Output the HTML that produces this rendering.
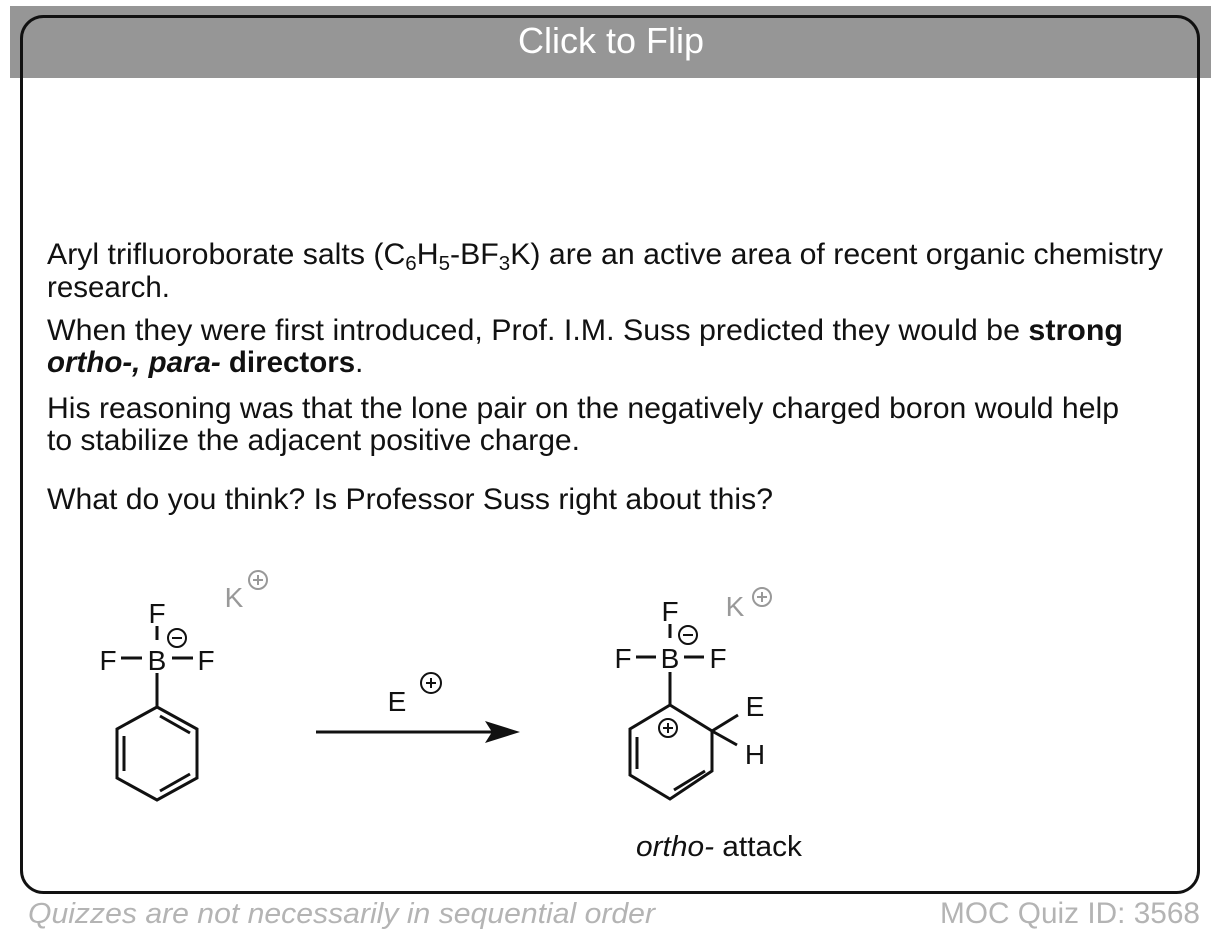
<!DOCTYPE html>
<html><head><meta charset="utf-8"><style>
html,body{margin:0;padding:0;background:#fff;}
svg{display:block;}
text{font-family:"Liberation Sans",Arial,sans-serif;}
</style></head><body>
<svg width="1222" height="950" viewBox="0 0 1222 950" xmlns="http://www.w3.org/2000/svg">
<rect x="10" y="6" width="1201" height="72" fill="#969696"/>
<rect x="21.5" y="16.5" width="1177" height="876" rx="22" ry="22" fill="none" stroke="#111" stroke-width="3"/>
<text x="611" y="53" font-size="36" fill="#fff" text-anchor="middle">Click to Flip</text>

<g font-size="29.5" fill="#111">
<text x="47" y="264" textLength="1116" lengthAdjust="spacingAndGlyphs">Aryl trifluoroborate salts (C<tspan font-size="20" dy="6">6</tspan><tspan dy="-6">H</tspan><tspan font-size="20" dy="6">5</tspan><tspan dy="-6">-BF</tspan><tspan font-size="20" dy="6">3</tspan><tspan dy="-6">K) are an active area of recent organic chemistry</tspan></text>
<text x="47" y="297">research.</text>
<text x="47" y="340" textLength="1076" lengthAdjust="spacingAndGlyphs">When they were first introduced, Prof.  I.M. Suss predicted they would be <tspan font-weight="bold">strong</tspan></text>
<text x="47" y="372"><tspan font-weight="bold" font-style="italic">ortho-, para-</tspan><tspan font-weight="bold"> directors</tspan>.</text>
<text x="47" y="418" textLength="1072" lengthAdjust="spacingAndGlyphs">His reasoning was that the lone pair on the negatively charged boron would help</text>
<text x="47" y="450" textLength="533" lengthAdjust="spacingAndGlyphs">to stabilize the adjacent positive charge.</text>
<text x="47" y="509" textLength="726" lengthAdjust="spacingAndGlyphs">What do you think? Is Professor Suss right about this?</text>
</g>

<!-- left molecule -->
<g stroke="#111" stroke-width="3" fill="none">
<line x1="157" y1="626" x2="157" y2="640"/>
<line x1="121" y1="658" x2="142" y2="658"/>
<line x1="172" y1="658" x2="193" y2="658"/>
<line x1="157" y1="673" x2="157" y2="707"/>
<polygon points="157,707 197,729 197,778 157,800 117,778 117,729"/>
<line x1="124" y1="736" x2="124" y2="771"/>
<line x1="160" y1="716" x2="190" y2="733"/>
<line x1="160" y1="791" x2="190" y2="774"/>
<circle cx="177" cy="638" r="9" stroke-width="2"/>
<line x1="172" y1="638" x2="182" y2="638" stroke-width="2"/>
</g>
<g font-size="28" fill="#111" text-anchor="middle">
<text x="157" y="623">F</text>
<text x="157" y="670">B</text>
<text x="108" y="670">F</text>
<text x="206" y="670">F</text>
</g>
<text x="234" y="607" font-size="28" fill="#999" text-anchor="middle">K</text>
<g stroke="#999" stroke-width="2" fill="none"><circle cx="258" cy="580" r="9"/><line x1="253" y1="580" x2="263" y2="580"/><line x1="258" y1="575" x2="258" y2="585"/></g>

<!-- arrow -->
<line x1="316" y1="732" x2="492" y2="732" stroke="#111" stroke-width="3"/>
<polygon points="520,732 485,721 492,732 485,743" fill="#111"/>
<text x="397" y="711" font-size="28" fill="#111" text-anchor="middle">E</text>
<g stroke="#111" stroke-width="2" fill="none"><circle cx="431" cy="683" r="10"/><line x1="426" y1="683" x2="436" y2="683"/><line x1="431" y1="678" x2="431" y2="688"/></g>

<!-- right molecule -->
<g stroke="#111" stroke-width="3" fill="none">
<line x1="670" y1="624" x2="670" y2="638"/>
<line x1="636" y1="657" x2="656" y2="657"/>
<line x1="684" y1="657" x2="704" y2="657"/>
<line x1="670" y1="672" x2="670" y2="705"/>
<polyline points="670,705 712,731 712,771 670,799 630,775 630,729 670,705"/>
<line x1="637" y1="737" x2="637" y2="769"/>
<line x1="674" y1="790" x2="705" y2="771"/>
<line x1="712" y1="731" x2="738" y2="715"/>
<line x1="712" y1="731" x2="737" y2="745"/>
<circle cx="688" cy="635" r="9" stroke-width="2"/>
<line x1="683" y1="635" x2="693" y2="635" stroke-width="2"/>
<circle cx="668" cy="728" r="9" stroke-width="2"/>
<line x1="663" y1="728" x2="673" y2="728" stroke-width="2"/>
<line x1="668" y1="723" x2="668" y2="733" stroke-width="2"/>
</g>
<g font-size="28" fill="#111" text-anchor="middle">
<text x="670" y="621">F</text>
<text x="670" y="668">B</text>
<text x="623" y="668">F</text>
<text x="718" y="668">F</text>
<text x="755" y="716">E</text>
<text x="755" y="764">H</text>
</g>
<text x="735" y="616" font-size="28" fill="#999" text-anchor="middle">K</text>
<g stroke="#999" stroke-width="2" fill="none"><circle cx="762" cy="597" r="9"/><line x1="757" y1="597" x2="767" y2="597"/><line x1="762" y1="592" x2="762" y2="602"/></g>

<text x="636" y="856" font-size="29" fill="#111" textLength="166" lengthAdjust="spacingAndGlyphs"><tspan font-style="italic">ortho-</tspan> attack</text>

<text x="28" y="923" font-size="29" font-style="italic" fill="#b4b4b4" textLength="627" lengthAdjust="spacingAndGlyphs">Quizzes are not necessarily in sequential order</text>
<text x="1200" y="923" font-size="30" fill="#b4b4b4" text-anchor="end" textLength="260" lengthAdjust="spacingAndGlyphs">MOC Quiz ID: 3568</text>
</svg>
</body></html>
